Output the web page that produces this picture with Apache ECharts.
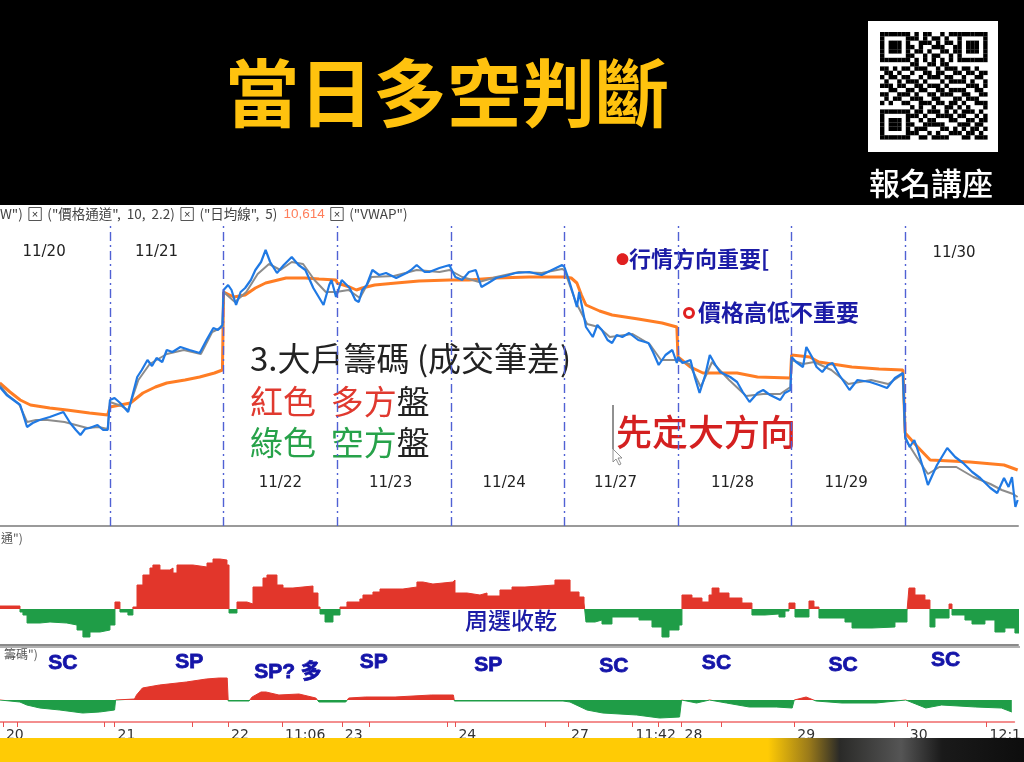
<!DOCTYPE html>
<html><head><meta charset="utf-8">
<script src="https://cdn.jsdelivr.net/npm/echarts@6/dist/echarts.min.js"></script>
<style>html,body{margin:0;padding:0;background:#fff}#c{width:1024px;height:762px}</style>
</head><body><div id="c"></div>
<script>
// ---- data (x = trading day index + fraction of session; 0 = 11/20) ----
const priceBlue = [
[0.03,10735],[0.09,10727],[0.15,10722],[0.21,10717],[0.27,10695],[0.32,10699],[0.38,10702],[0.47,10705],[0.59,10710],[0.65,10699],[0.70,10692],[0.74,10687],[0.78,10693],[0.82,10694],[0.89,10697],[0.94,10692],[0.98,10692],
[1.00,10722],[1.04,10724],[1.09,10719],[1.16,10710],[1.24,10745],[1.28,10752],[1.33,10762],[1.37,10756],[1.41,10764],[1.46,10760],[1.50,10772],[1.55,10770],[1.62,10775],[1.70,10772],[1.79,10769],[1.85,10782],[1.91,10794],[1.95,10792],[1.99,10797],
[2.00,10832],[2.04,10837],[2.07,10832],[2.11,10817],[2.15,10830],[2.19,10834],[2.24,10842],[2.28,10852],[2.33,10860],[2.37,10872],[2.41,10860],[2.47,10849],[2.53,10857],[2.60,10865],[2.66,10857],[2.72,10852],[2.79,10834],[2.88,10817],[2.93,10837],[2.95,10842],[2.99,10825],
[3.00,10827],[3.04,10842],[3.11,10834],[3.16,10822],[3.19,10820],[3.22,10832],[3.26,10837],[3.31,10852],[3.37,10847],[3.43,10849],[3.52,10844],[3.61,10849],[3.65,10852],[3.70,10857],[3.77,10850],[3.81,10850],[3.90,10854],[3.99,10857],
[4.00,10854],[4.04,10845],[4.10,10842],[4.16,10850],[4.22,10852],[4.27,10835],[4.33,10839],[4.40,10844],[4.48,10846],[4.57,10849],[4.69,10850],[4.80,10847],[4.89,10852],[4.98,10857],
[5.00,10855],[5.04,10842],[5.08,10827],[5.11,10815],[5.13,10830],[5.17,10807],[5.19,10795],[5.25,10785],[5.29,10797],[5.33,10792],[5.38,10782],[5.42,10779],[5.46,10787],[5.51,10785],[5.57,10789],[5.65,10782],[5.74,10779],[5.78,10770],[5.83,10757],[5.89,10767],[5.95,10772],[5.99,10759],
[6.00,10765],[6.04,10759],[6.11,10762],[6.15,10744],[6.19,10729],[6.24,10747],[6.28,10767],[6.33,10757],[6.37,10750],[6.46,10745],[6.52,10740],[6.57,10730],[6.63,10720],[6.70,10729],[6.75,10732],[6.81,10727],[6.90,10722],[6.94,10729],[6.99,10732],
[7.00,10765],[7.04,10760],[7.10,10755],[7.13,10775],[7.18,10765],[7.22,10755],[7.27,10750],[7.32,10757],[7.36,10759],[7.42,10747],[7.51,10732],[7.58,10742],[7.69,10740],[7.77,10737],[7.84,10734],[7.91,10744],[7.98,10749],
[8.00,10685],[8.04,10675],[8.08,10682],[8.11,10672],[8.15,10657],[8.20,10637],[8.28,10657],[8.37,10674],[8.44,10665],[8.51,10659],[8.59,10650],[8.66,10644],[8.75,10634],[8.81,10629],[8.87,10644],[8.91,10635],[8.94,10645],[8.97,10615],[8.99,10622]
];
const priceGray = [
[0.03,10737],[0.10,10727],[0.20,10718],[0.27,10700],[0.35,10702],[0.45,10702],[0.60,10700],[0.70,10697],[0.80,10694],[0.90,10695],[0.98,10693],
[1.00,10720],[1.10,10716],[1.16,10712],[1.25,10742],[1.35,10758],[1.50,10768],[1.65,10772],[1.80,10768],[1.90,10790],[1.99,10795],
[2.00,10830],[2.10,10820],[2.20,10830],[2.30,10848],[2.40,10858],[2.50,10852],[2.60,10860],[2.70,10858],[2.80,10842],[2.90,10830],[2.99,10830],
[3.00,10830],[3.10,10832],[3.20,10824],[3.30,10845],[3.50,10846],[3.70,10852],[3.90,10850],[3.99,10852],
[4.00,10850],[4.10,10845],[4.25,10840],[4.40,10845],[4.60,10850],[4.80,10849],[4.98,10853],
[5.00,10852],[5.10,10820],[5.20,10798],[5.30,10795],[5.40,10785],[5.60,10788],[5.75,10778],[5.85,10762],[5.99,10762],
[6.00,10762],[6.10,10758],[6.20,10735],[6.30,10760],[6.45,10742],[6.60,10726],[6.75,10728],[6.90,10728],[6.99,10735],
[7.00,10762],[7.10,10758],[7.20,10760],[7.35,10752],[7.50,10738],[7.70,10742],[7.85,10738],[7.98,10748],
[8.00,10683],[8.10,10665],[8.20,10648],[8.30,10655],[8.45,10655],[8.60,10645],[8.75,10638],[8.85,10632],[8.95,10628],[8.99,10625]
];
const vwap = [
[0.03,10739],[0.12,10730],[0.21,10722],[0.30,10717],[0.47,10714],[0.62,10712],[0.82,10709],[0.98,10707],
[1.00,10715],[1.09,10717],[1.18,10719],[1.29,10729],[1.40,10735],[1.50,10739],[1.66,10742],[1.79,10745],[1.92,10749],[1.99,10752],
[2.00,10830],[2.09,10825],[2.19,10827],[2.28,10834],[2.37,10839],[2.55,10844],[2.72,10844],[2.84,10843],[2.99,10842],
[3.00,10839],[3.11,10835],[3.17,10832],[3.22,10834],[3.33,10837],[3.52,10839],[3.72,10841],[3.99,10842],
[4.00,10842],[4.16,10842],[4.40,10844],[4.69,10845],[4.98,10845],
[5.00,10845],[5.06,10844],[5.11,10839],[5.15,10827],[5.19,10817],[5.31,10811],[5.42,10807],[5.65,10803],[5.86,10799],[5.99,10795],
[6.00,10765],[6.11,10755],[6.22,10749],[6.52,10749],[6.70,10745],[6.99,10744],
[7.00,10767],[7.16,10765],[7.24,10760],[7.53,10755],[7.77,10753],[7.98,10752],
[8.00,10689],[8.11,10675],[8.22,10662],[8.40,10661],[8.57,10660],[8.87,10657],[8.99,10652]
];
// 大戶籌碼 (成交筆差)
const chipDiff = [
[0.032,300],[0.19,300],[0.208,-300],[0.234,-600],[0.27,-1400],[0.384,-1300],[0.472,-1400],[0.62,-1600],[0.71,-2100],[0.762,-2800],[0.824,-2300],[0.912,-2100],[1.0,-1600],
[1.044,700],[1.088,-300],[1.158,-600],[1.202,200],[1.238,2400],[1.29,3400],[1.352,4100],[1.378,4400],[1.44,3900],[1.528,4100],[1.555,3600],[1.59,4400],[1.73,4200],[1.854,4600],[1.907,5000],[1.968,4900],[2.03,4400],
[2.048,-400],[2.118,700],[2.206,500],[2.259,2200],[2.347,3100],[2.382,3400],[2.47,2400],[2.523,2100],[2.611,2300],[2.787,1600],[2.831,200],[2.849,-500],[2.893,-1300],[2.963,-600],
[3.025,200],[3.086,700],[3.2,1000],[3.227,1400],[3.315,1700],[3.377,2000],[3.579,2200],[3.702,2700],[3.755,2500],[3.843,2700],
[4.019,2900],[4.037,1600],[4.143,1400],[4.257,1600],[4.319,1300],[4.433,1900],[4.539,2200],[4.653,2400],[4.917,2900],
[5.05,1700],[5.129,1200],[5.173,600],[5.19,-1300],[5.27,-1100],[5.331,-1500],[5.419,-800],[5.657,-1100],[5.771,-1800],[5.859,-2800],[5.921,-2100],[6.009,-1600],
[6.035,1400],[6.123,1100],[6.211,700],[6.273,1400],[6.3,2100],[6.361,1600],[6.449,1100],[6.563,600],[6.651,-600],[6.766,-500],[6.889,-800],[6.942,-200],[6.977,600],
[7.03,-800],[7.153,800],[7.197,200],[7.241,-900],[7.47,-1300],[7.532,-1900],[7.708,-1800],[7.91,-1300],[8.016,-200],
[8.033,2100],[8.086,1400],[8.174,900],[8.218,-1800],[8.262,-900],[8.386,500],[8.412,-600],[8.526,-1100],[8.588,-1500],[8.702,-1100],[8.79,-2300],[8.878,-1900],[8.966,-2400],[9.01,-2400]
];
// 大戶籌碼 累計
const chipSum = [
[0.032,0],[0.208,-20],[0.269,-50],[0.384,-80],[0.56,-100],[0.762,-130],[0.912,-120],[1.044,-100],[1.053,0],
[1.22,10],[1.238,50],[1.29,120],[1.44,150],[1.678,180],[1.854,210],[1.968,220],[2.039,220],[2.048,-10],
[2.232,-10],[2.259,30],[2.338,80],[2.382,80],[2.496,50],[2.673,60],[2.822,20],[2.849,-20],[3.086,-20],
[3.113,20],[3.262,30],[3.522,30],[3.843,50],[4.037,50],[4.046,-10],[5.005,-10],
[5.067,-20],[5.217,-100],[5.357,-130],[5.657,-150],[5.859,-180],[6.035,-170],[6.053,0],
[6.185,-30],[6.3,0],[6.449,-30],[6.651,-70],[6.889,-70],[7.03,-80],[7.048,0],
[7.153,30],[7.241,-10],[7.47,-30],[7.77,-30],[8.033,0],[8.21,-80],[8.35,-50],[8.65,-70],[8.878,-80],[8.97,-120]
];
const dayBoundaries = [1,2,3,4,5,6,7,8];
const dayLabels = ['11/20','11/21','11/22','11/23','11/24','11/27','11/28','11/29','11/30'];
const dayLabelPos = [[0.42,10870],[1.41,10870],[2.50,10639],[3.47,10639],[4.47,10639],[5.45,10639],[6.48,10639],[7.48,10639],[8.43,10869]];
const bottomTickPos = [0.058,1.044,2.047,2.523,3.051,4.055,5.05,5.62,6.053,7.048,8.042,8.747];
const bottomTickLabels = ['20','21','22','11:06','23','24','27','11:42','28','29','30','12:1'];
const minorTickPos = [0.18,0.956,1.73,3.29,3.98,4.85,5.85,6.40,7.93];
const signalLabels = ['SC','SP','SP? 多','SP','SP','SC','SC','SC','SC'];
const signalPos = [[0.586,370],[1.704,380],[2.576,280],[3.333,380],[4.345,350],[5.454,340],[6.361,370],[7.479,350],[8.386,400]];

const RED = '#e2362b', GREEN = '#1f9d47', NAVY = '#1b1ba6', SIG = '#1414a8';
const CJK = '"Noto Sans CJK TC","Noto Sans CJK SC",sans-serif';
const X_MIN = 0.032, X_MAX = 8.993;

const qrRows = [
"1111111010110010111111111","1000001110101101001000001","1011101001110101101011101","1011101101001110011011101",
"1011101011010011011011101","1000001100101100101000001","1111111010101010101111111","0000000110011011000000000",
"1101011011100101110110100","0110100100110110011011011","1011011001011101100100110","0100101110100010111101001",
"1110110011011101000011101","0011001101100110111100110","1100111010011011100110011","0101100111001100011011100",
"1010011001110110110100111","0000000101001001101010001","1111111011011101010111010","1000001110100111101100101",
"1011101001011000110011011","1011101100111110001110110","1011101011100011010101101","1000001110010100111011010",
"1111111001101111000110111"];
const qrCells = [];
qrRows.forEach((row, r) => { for (let c = 0; c < row.length; c++) if (row[c] === '1')
  qrCells.push({type:'rect', z:12, shape:{x:880 + c*4.3, y:32 + r*4.3, width:4.4, height:4.4}, style:{fill:'#000'}}); });

const chart = echarts.init(document.getElementById('c'), null, {renderer:'canvas'});
const hidY = {show:false, splitLine:{show:false}};
const baseX = {type:'value', min:X_MIN, max:X_MAX, splitLine:{show:false}, axisLabel:{show:false}, axisTick:{show:false}};
const signPieces = [{min:-1e7, max:0, color:GREEN},{gt:0, lte:1e7, color:RED}];
chart.setOption({
  animation:false,
  backgroundColor:'#fff',
  grid:[
    {left:0, top:222, width:1018, height:304},
    {left:0, top:527, width:1018, height:118},
    {left:0, top:647, width:1018, height:75}
  ],
  xAxis:[
    Object.assign({}, baseX, {gridIndex:0, axisLine:{onZero:false, lineStyle:{color:'#9a9a9a', width:2}}}),
    Object.assign({}, baseX, {gridIndex:1, axisLine:{onZero:false, lineStyle:{color:'#8a8a8a', width:2}}}),
    Object.assign({}, baseX, {gridIndex:2,
      axisLine:{onZero:false, lineStyle:{color:'#f06a6a', width:1.5}},
      axisTick:{show:true, length:5, customValues: bottomTickPos.concat(minorTickPos), lineStyle:{color:'#e85050'}},
      axisLabel:{show:true, customValues: bottomTickPos, align:'left', margin:6, padding:[0,0,0,3],
        color:'#333', fontSize:14, fontFamily:'DejaVu Sans',
        formatter: v => { const i = bottomTickPos.indexOf(v); return i >= 0 ? bottomTickLabels[i] : ''; }}})
  ],
  yAxis:[
    Object.assign({gridIndex:0, type:'value', min:10596, max:10900}, hidY),
    Object.assign({gridIndex:1, type:'value', min:-3600, max:8200}, hidY),
    Object.assign({gridIndex:2, type:'value', min:-220, max:530}, hidY)
  ],
  visualMap:[
    {type:'piecewise', show:false, seriesIndex:3, dimension:1, pieces:signPieces},
    {type:'piecewise', show:false, seriesIndex:4, dimension:1, pieces:signPieces}
  ],
  series:[
    {type:'line', name:'VWAP', xAxisIndex:0, yAxisIndex:0, data:vwap, symbol:'none', z:2,
     lineStyle:{color:'#ff7d24', width:3},
     markLine:{symbol:'none', silent:true, label:{show:false}, animation:false,
       lineStyle:{color:'#5061d4', width:1.4, type:[9,4,2,4]},
       data: dayBoundaries.map(v => ({xAxis:v}))}},
    {type:'line', name:'close', xAxisIndex:0, yAxisIndex:0, data:priceGray, symbol:'none', z:3,
     lineStyle:{color:'#8c8c8c', width:2}},
    {type:'line', name:'price', xAxisIndex:0, yAxisIndex:0, data:priceBlue, symbol:'none', z:4,
     lineStyle:{color:'#1f79e4', width:2.2}},
    {type:'line', name:'大戶籌碼', xAxisIndex:1, yAxisIndex:1, data:chipDiff, symbol:'none', step:'end',
     lineStyle:{width:1}, areaStyle:{opacity:1}},
    {type:'line', name:'籌碼累計', xAxisIndex:2, yAxisIndex:2, data:chipSum, symbol:'none',
     lineStyle:{width:1}, areaStyle:{opacity:1}},
    {type:'scatter', xAxisIndex:0, yAxisIndex:0, symbolSize:0, itemStyle:{color:'#222', opacity:1}, silent:true,
     data: dayLabels.map((n,i) => ({name:n, value:dayLabelPos[i]})),
     label:{show:true, position:'inside', formatter:'{b}', color:'#222', opacity:1, fontSize:15, fontFamily:'DejaVu Sans', textBorderWidth:0}},
    {type:'scatter', xAxisIndex:2, yAxisIndex:2, symbolSize:0, itemStyle:{color:SIG, opacity:1}, silent:true,
     data: signalLabels.map((n,i) => ({name:n, value:signalPos[i]})),
     label:{show:true, position:'inside', formatter:'{b}', color:SIG, opacity:1, fontSize:21, fontWeight:'bold',
       textBorderColor:SIG, textBorderWidth:0.8,
       fontFamily:'"Liberation Sans",Arial,"Noto Sans CJK TC",sans-serif'}}
  ],
  graphic:[
    {type:'rect', shape:{x:0, y:0, width:1024, height:205}, style:{fill:'#000'}, z:10},
    {type:'text', x:447, y:93, z:11, style:{text:'當日多空判斷', fill:'#ffc20e', font:'bold 74px '+CJK, textAlign:'center', textVerticalAlign:'middle'}},
    {type:'rect', shape:{x:868, y:21, width:130, height:131}, style:{fill:'#fff'}, z:11},
    {type:'group', children: qrCells},
    {type:'text', x:931, y:183, z:11, style:{text:'報名講座', fill:'#fff', font:'500 31px '+CJK, textAlign:'center', textVerticalAlign:'middle'}},
    {type:'text', x:0, y:214, z:5, style:{
      text:'W")  {b|×}  ("價格通道",  10,  2.2)  {b|×}  ("日均線",  5)  {r|10,614}  {b|×}  ("VWAP")',
      fill:'#444', font:'13.5px '+CJK, textVerticalAlign:'middle',
      rich:{b:{borderColor:'#555', borderWidth:1, padding:[2,3,0,3], fontSize:11, fill:'#333'}, r:{fill:'#ff7d5a', fontSize:13.5}}}},
    {type:'text', x:1, y:538, z:5, style:{text:'通")', fill:'#555', font:'12px '+CJK, textVerticalAlign:'middle'}},
    {type:'text', x:4, y:654, z:5, style:{text:'籌碼")', fill:'#555', font:'12px '+CJK, textVerticalAlign:'middle'}},
    {type:'line', shape:{x1:0, y1:647, x2:1020, y2:647}, style:{stroke:'#999', lineWidth:1.5}, z:5},
    {type:'text', x:250, y:358, z:5, style:{text:'3.大戶籌碼 (成交筆差)', fill:'#222', font:'33px '+CJK, textVerticalAlign:'middle'}},
    {type:'text', x:250, y:401, z:5, style:{text:'{r|紅色  多方}{k|盤}', font:'33px '+CJK, textVerticalAlign:'middle',
      rich:{r:{fill:'#e0392f', font:'33px '+CJK}, k:{fill:'#222', font:'33px '+CJK}}}},
    {type:'text', x:250, y:442, z:5, style:{text:'{g|綠色  空方}{k|盤}', font:'33px '+CJK, textVerticalAlign:'middle',
      rich:{g:{fill:'#27a24a', font:'33px '+CJK}, k:{fill:'#222', font:'33px '+CJK}}}},
    {type:'text', x:616, y:432, z:5, style:{text:'先定大方向', fill:'#d42020', font:'500 36px '+CJK, textVerticalAlign:'middle'}},
    {type:'line', shape:{x1:613, y1:405, x2:613, y2:449}, style:{stroke:'#222', lineWidth:1}, z:5},
    {type:'polygon', shape:{points:[[613,449],[613,462],[616,459],[619,465],[621,464],[618,458],[622,458]]}, style:{fill:'#fff', stroke:'#777', lineWidth:0.8}, z:5},
    {type:'text', x:616, y:259, z:5, style:{text:'{d|●}{t|行情方向重要[}', textVerticalAlign:'middle',
      rich:{d:{fill:'#e02020', font:'13px '+CJK}, t:{fill:NAVY, font:'bold 22px '+CJK}}}},
    {type:'circle', shape:{cx:689, cy:313, r:4.5}, style:{fill:'#fff', stroke:'#e02020', lineWidth:3}, z:5},
    {type:'text', x:698, y:312, z:5, style:{text:'價格高低不重要', fill:NAVY, font:'bold 23px '+CJK, textVerticalAlign:'middle'}},
    {type:'text', x:465, y:620, z:5, style:{text:'周選收乾', fill:NAVY, font:'500 23px '+CJK, textVerticalAlign:'middle'}},
    {type:'rect', shape:{x:0, y:738, width:1024, height:24}, z:100,
     style:{fill:new echarts.graphic.LinearGradient(0,0,1,0,[
       {offset:0, color:'#ffcb05'},{offset:0.75, color:'#ffcb05'},{offset:0.79, color:'#9a7a1a'},
       {offset:0.82, color:'#2a2a28'},{offset:0.88, color:'#555'},{offset:0.92, color:'#1a1a1a'},{offset:1, color:'#0d0d0d'}])}}
  ]
});
</script></body></html>
